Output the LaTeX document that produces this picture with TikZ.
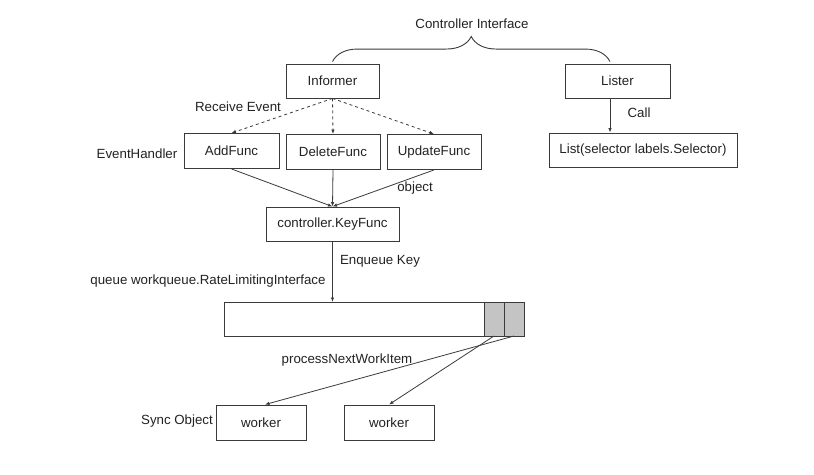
\documentclass[tikz,border=0pt]{standalone}
\usepackage{fontspec}
\setmainfont{Liberation Sans}
\usetikzlibrary{arrows.meta}
\usetikzlibrary{positioning}
\usetikzlibrary{decorations.pathreplacing}
\definecolor{linegray}{HTML}{3A3A3A}
\definecolor{cellgray}{HTML}{C4C4C4}
\definecolor{textgray}{HTML}{222222}

\begin{document}
\begin{tikzpicture}[x=1pt, y=-1pt, % Pixel-Koordinaten, y nach unten
  box/.style={draw=linegray, line width=0.9pt, minimum height=34pt, inner sep=0pt, text=textgray, font=\fontsize{13.3}{15}\selectfont},
  lbl/.style={inner sep=0pt, text=textgray, font=\fontsize{13.3}{15}\selectfont},
  pfeil/.style={draw=linegray, line width=0.8pt, -{Latex[length=4.5pt,width=3.5pt]}}]
\useasboundingbox (0,0) rectangle (814,474);
% Kästen
\node[box, minimum width=93pt] (informer) at (332.5,81) {Informer};
\node[box, minimum width=105pt] (lister) at (617.5,81) {Lister};
\node[box, minimum width=95pt, minimum height=35pt] (addfunc) at (231.5,151) {AddFunc};
\node[box, minimum width=94pt, minimum height=35pt] (deletefunc) at (333,152) {DeleteFunc};
\node[box, minimum width=94pt, minimum height=35pt] (updatefunc) at (434,152) {UpdateFunc};
\node[box, minimum width=188pt] (list) at (643,150) {List(selector labels.Selector)};
\node[box, minimum width=133pt] (keyfunc) at (332.5,224) {controller.KeyFunc};
% Queue mit zwei Elementen
\node[box, outer sep=0pt, minimum width=260pt] (queue) at (354,319) {};
\node[box, outer sep=0pt, minimum width=20pt, fill=cellgray, right=0pt of queue] (cella) {};
\node[box, outer sep=0pt, minimum width=20pt, fill=cellgray, right=0pt of cella] (cellb) {};
% Worker
\node[box, minimum width=90pt, minimum height=35pt] (workera) at (261,422.5) {worker};
\node[box, minimum width=90pt, minimum height=35pt] (workerb) at (389,422.5) {worker};
% Beschriftungen
\node[lbl] (title) at (472,24) {Controller Interface};
\node[lbl] (receive) at (238,107) {Receive Event};
\node[lbl] (handler) at (137,154) {EventHandler};
\node[lbl] (call) at (639,113) {Call};
\node[lbl] (object) at (415,188) {object};
\node[lbl] (enqueue) at (380,261) {Enqueue Key};
\node[lbl] (queuelbl) at (208,281) {queue workqueue.RateLimitingInterface};
\node[lbl] (process) at (347,360) {processNextWorkItem};
\node[lbl] (sync) at (177,421) {Sync Object};
% Klammer
\draw[linegray, line width=0.9pt, decorate, decoration={brace, amplitude=25pt}] ([yshift=2pt]informer.north) -- ([yshift=2pt,xshift=-7.5pt]lister.north);
% Pfeile
\draw[pfeil, dashed] (informer.south) -- (addfunc.north);
\draw[pfeil, dashed] (informer.south) -- (deletefunc.north);
\draw[pfeil, dashed] (informer.south) -- (updatefunc.north);
\draw[pfeil] ([xshift=-7.5pt]lister.south) -- ([xshift=-7.5pt]lister.south |- list.north);
\draw[pfeil] (addfunc.south) -- (keyfunc.north);
\draw[pfeil] (deletefunc.south) -- (keyfunc.north);
\draw[pfeil] (updatefunc.south) -- (keyfunc.north);
\draw[pfeil] (keyfunc.south) -- (keyfunc.south |- queue.north);
\draw[pfeil] (cella.south) -- (workerb.north);
\draw[pfeil] (cellb.south) -- ([xshift=4pt]workera.north);
\end{tikzpicture}
\end{document}
